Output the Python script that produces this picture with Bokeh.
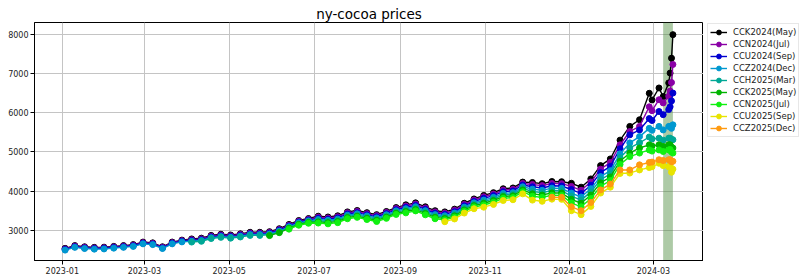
import numpy as np
import pandas as pd
from bokeh.plotting import figure
from bokeh.layouts import row
from bokeh.models import (FixedTicker, DatetimeTickFormatter, Range1d, BoxAnnotation,
                          Legend, LegendItem, ColumnDataSource)
from bokeh.embed import file_html
from bokeh.resources import INLINE

# ---------------- data ----------------
dates = list(pd.date_range("2023-01-03", periods=61, freq="7D").strftime("%Y-%m-%d")) + \
        ["2024-02-29", "2024-03-05", "2024-03-08", "2024-03-12",
         "2024-03-13", "2024-03-14", "2024-03-15"]

cck24 = [2540, 2610, 2580, 2565, 2570, 2590, 2610, 2635, 2700, 2680,
         2580, 2700, 2750, 2780, 2800, 2870, 2900, 2880, 2910, 2950,
         2950, 2965, 3040, 3150, 3250, 3300, 3360, 3340, 3370, 3470,
         3505, 3450, 3400, 3480, 3580, 3650, 3700, 3600, 3500, 3470,
         3540, 3690, 3800, 3890, 3960, 4060, 4080, 4230, 4220, 4190,
         4245, 4240, 4200, 4100, 4310, 4650, 4820, 5300, 5650, 5820,
         6495, 6325, 6630, 6410, 6760, 7010, 7390, 7990]
ccn24 = [2525, 2595, 2565, 2550, 2555, 2575, 2595, 2620, 2685, 2665,
         2565, 2685, 2735, 2760, 2780, 2850, 2880, 2860, 2890, 2930,
         2930, 2945, 3020, 3130, 3230, 3280, 3335, 3315, 3345, 3445,
         3480, 3425, 3375, 3455, 3555, 3620, 3670, 3570, 3470, 3440,
         3510, 3660, 3770, 3855, 3925, 4025, 4045, 4195, 4170, 4140,
         4195, 4190, 4120, 4020, 4230, 4560, 4730, 5180, 5520, 5650,
         6150, 6050, 6330, 6250, 6420, 6550, 6770, 7230]
ccu24 = [2510, 2580, 2550, 2535, 2540, 2560, 2580, 2605, 2670, 2650,
         2550, 2670, 2720, 2740, 2760, 2830, 2860, 2840, 2870, 2910,
         2910, 2925, 3000, 3110, 3210, 3260, 3305, 3285, 3315, 3415,
         3450, 3395, 3345, 3425, 3525, 3585, 3635, 3535, 3435, 3405,
         3475, 3625, 3735, 3815, 3885, 3985, 4005, 4155, 4110, 4080,
         4135, 4130, 4040, 3940, 4150, 4470, 4630, 5080, 5435, 5560,
         5850, 5800, 6030, 5950, 6080, 6150, 6300, 6500]
ccz24 = [2495, 2565, 2535, 2520, 2525, 2545, 2565, 2590, 2655, 2635,
         2535, 2655, 2705, 2720, 2740, 2810, 2840, 2820, 2850, 2890,
         2890, 2905, 2980, 3090, 3190, 3240, 3275, 3255, 3285, 3385,
         3420, 3365, 3315, 3395, 3495, 3550, 3600, 3500, 3400, 3370,
         3440, 3590, 3700, 3770, 3840, 3940, 3960, 4110, 4050, 4020,
         4075, 4070, 3950, 3850, 4060, 4370, 4520, 4950, 5230, 5390,
         5600, 5550, 5650, 5560, 5650, 5650, 5600, 5690]
cch25 = [None] * 13 + [2700, 2720, 2790, 2820, 2800, 2830, 2870,
         2870, 2885, 2960, 3070, 3170, 3220, 3245, 3225, 3255, 3355,
         3390, 3335, 3285, 3365, 3465, 3515, 3565, 3465, 3365, 3335,
         3405, 3555, 3665, 3730, 3800, 3900, 3920, 4070, 3990, 3960,
         4015, 4010, 3870, 3770, 3980, 4290, 4440, 4850, 5100, 5230,
         5380, 5330, 5350, 5300, 5350, 5350, 5320, 5310]
cck25 = [None] * 21 + [2865, 2940, 3050, 3150, 3200, 3215, 3195, 3225, 3325,
         3360, 3305, 3255, 3335, 3435, 3480, 3530, 3430, 3330, 3300,
         3370, 3520, 3630, 3690, 3760, 3860, 3880, 4030, 3930, 3900,
         3955, 3950, 3790, 3690, 3900, 4210, 4360, 4760, 4970, 5100,
         5180, 5150, 5180, 5140, 5180, 5180, 5120, 5100]
ccn25 = [None] * 23 + [3030, 3130, 3180, 3185, 3165, 3195, 3295,
         3330, 3275, 3225, 3305, 3405, 3445, 3495, 3395, 3295, 3265,
         3335, 3485, 3595, 3645, 3715, 3815, 3835, 3985, 3870, 3840,
         3895, 3890, 3700, 3600, 3810, 4120, 4270, 4680, 4880, 4970,
         5050, 5020, 5050, 5010, 5050, 5060, 5000, 4970]
ccu25 = [None] * 39 + [3220,
         3290, 3440, 3550, 3590, 3660, 3760, 3780, 3930, 3770, 3740,
         3795, 3790, 3500, 3400, 3610, 3950, 4100, 4450, 4460, 4540,
         4600, 4620, 4710, 4650, 4620, 4650, 4480, 4560]
ccz25 = [None] * 50 + [3845, 3840, 3600, 3500, 3710, 4030, 4180, 4540, 4540, 4670,
         4730, 4740, 4800, 4780, 4800, 4800, 4750, 4760]

labels = ["CCK2024(May)", "CCN2024(Jul)", "CCU2024(Sep)", "CCZ2024(Dec)", "CCH2025(Mar)",
          "CCK2025(May)", "CCN2025(Jul)", "CCU2025(Sep)", "CCZ2025(Dec)"]
series = [cck24, ccn24, ccu24, ccz24, cch25, cck25, ccn25, ccu25, ccz25]
colors = ["#000000", "#8a00a6", "#0000d0", "#0098d0", "#00a896", "#00b400",
          "#10f010", "#e8e400", "#ff9a10"]

x_ticks = ["2023-01-01", "2023-03-01", "2023-05-01", "2023-07-01", "2023-09-01",
           "2023-11-01", "2024-01-01", "2024-03-01"]
y_ticks = [3000, 4000, 5000, 6000, 7000, 8000]
highlight = ("2024-03-08", "2024-03-15")
x_lim = ("2022-12-12", "2024-04-06")
y_lim = (2230, 8300)


def ms(s):
    return pd.Timestamp(s).value / 1e6


FONT = "DejaVu Sans"
MSIZE = 6
LW = 1.4

p = figure(frame_width=669, frame_height=238, x_axis_type="datetime", output_backend="svg",
           toolbar_location=None,
           x_range=Range1d(ms(x_lim[0]), ms(x_lim[1])), y_range=Range1d(*y_lim),
           min_border_left=34, min_border_right=0, min_border_top=22, min_border_bottom=16)

p.title.text = "ny-cocoa prices"
p.title.align = "center"
p.title.text_font = FONT
p.title.text_font_size = "13.5px"
p.title.text_font_style = "normal"
p.title.text_color = "#000000"
p.title.standoff = 2

p.add_layout(BoxAnnotation(left=ms(highlight[0]), right=ms(highlight[1]),
                           fill_color="#4a8a3a", fill_alpha=0.45, line_alpha=0,
                           level="underlay"))

xd = pd.to_datetime(dates)
for lab, vals, col in zip(labels, series, colors):
    y = np.array([np.nan if v is None else v for v in vals], dtype=float)
    src = ColumnDataSource(dict(x=xd, y=y))
    p.line("x", "y", source=src, line_color=col, line_width=LW)
    p.scatter("x", "y", source=src, size=MSIZE, fill_color=col, line_color=col)

p.xaxis.ticker = FixedTicker(ticks=[ms(t) for t in x_ticks])
fmt = "%Y-%m"
p.xaxis.formatter = DatetimeTickFormatter(days=fmt, months=fmt, years=fmt, hours=fmt,
                                          minutes=fmt, seconds=fmt, milliseconds=fmt,
                                          microseconds=fmt, minsec=fmt, hourmin=fmt)
p.yaxis.ticker = FixedTicker(ticks=y_ticks)

for ax in (p.xaxis[0], p.yaxis[0]):
    ax.major_label_text_font = FONT
    ax.major_label_text_font_size = "8px"
    ax.major_label_text_color = "#222222"
    ax.axis_line_color = "black"
    ax.major_tick_line_color = "black"
    ax.major_tick_out = 4
    ax.major_tick_in = 0
    ax.minor_tick_line_color = None
    ax.major_label_standoff = 2

p.grid.grid_line_color = "#c4c4c4"
p.grid.grid_line_width = 1
p.outline_line_color = "black"
p.outline_line_width = 1
p.background_fill_color = "white"
p.border_fill_color = "white"

# ---------------- legend panel (separate narrow figure on the right) ----------------
lf = figure(width=97, height=276, output_backend="svg", toolbar_location=None,
            x_range=Range1d(0, 1), y_range=Range1d(0, 1),
            x_axis_location=None, y_axis_location=None,
            min_border=0)
lf.grid.visible = False
lf.outline_line_color = None
lf.background_fill_color = "white"
lf.border_fill_color = "white"

items = []
for lab, col in zip(labels, colors):
    # one point far outside the (0, 1) ranges: the renderers exist only to feed the legend
    s = ColumnDataSource(dict(x=[-10.0], y=[-10.0]))
    r1 = lf.line("x", "y", source=s, line_color=col, line_width=LW)
    r2 = lf.scatter("x", "y", source=s, size=MSIZE, fill_color=col, line_color=col)
    items.append(LegendItem(label=lab, renderers=[r1, r2]))

legend = Legend(items=items, location=(4, 123), margin=0, padding=2, spacing=0,
                label_height=12, glyph_height=12, glyph_width=17, label_standoff=6,
                label_text_font=FONT, label_text_font_size="8.5px",
                label_text_color="#1a1a1a",
                border_line_color="#d0d0d0", border_line_width=1,
                background_fill_color="white", background_fill_alpha=0.8)
lf.add_layout(legend)

layout = row(p, lf, spacing=0)

open("out.html", "w").write(file_html(layout, INLINE))
